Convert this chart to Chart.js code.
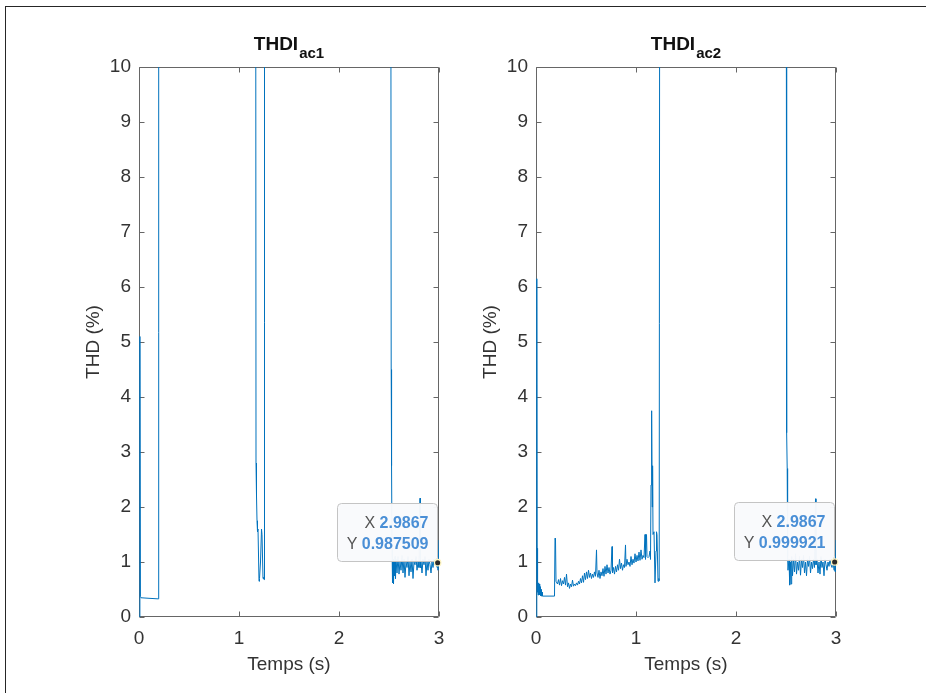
<!DOCTYPE html>
<html lang="fr">
<head>
  <meta charset="UTF-8" />
  <title>THDI ac1 / ac2</title>
  <script src="https://cdn.jsdelivr.net/npm/chart.js"></script>
  <style>
    body { margin: 0; background: #fff; width: 926px; height: 693px; overflow: hidden; position: relative; }
    .frame {
      position: absolute; left: 5px; top: 6px; width: 940px; height: 700px;
      border-top: 1px solid #262626; border-left: 1px solid #262626;
    }
    canvas { position: absolute; top: 0; }
    #ac1 { left: 0; }
    #ac2 { left: 397px; }
  </style>
</head>
<body>
  <div class="frame"></div>
  <canvas id="ac1" width="463" height="693"></canvas>
  <canvas id="ac2" width="463" height="693"></canvas>

  <script>
    // values; 20 = off the top of the axes (clipped at 10)
    const timeAc1 = [
      0, 0.009, 0.014, 0.02, 0.1, 0.19, 0.197,
      1.165, 1.17, 1.175, 1.18, 1.185, 1.19, 1.2, 1.205, 1.215, 1.225, 1.23, 1.24, 1.245, 1.25, 1.255,
      2.515, 2.522, 2.524, 2.527, 2.53, 2.535, 2.54, 2.545, 2.55, 2.555, 2.56, 2.565, 2.57, 2.58, 2.59,
      2.6, 2.61, 2.62, 2.63, 2.64, 2.65, 2.66, 2.67, 2.68, 2.69, 2.7, 2.71, 2.72, 2.73, 2.74, 2.75,
      2.76, 2.77, 2.78, 2.79, 2.8, 2.81, 2.815, 2.82, 2.83, 2.84, 2.85, 2.86, 2.87, 2.88, 2.89, 2.9,
      2.91, 2.92, 2.93, 2.94, 2.95, 2.96, 2.97, 2.98, 2.9867, 2.99, 3.0
    ];
    const thdAc1 = [
      0, 5.1, 0.37, 0.35, 0.34, 0.33, 20,
      20, 2.8, 2.2, 1.75, 1.55, 1.6, 0.65, 0.7, 1.0, 1.6, 1.5, 0.7, 0.72, 0.68, 20,
      20, 4.5, 3.4, 2.75, 1.3, 0.62, 1.05, 0.6, 1.0, 0.75, 1.1, 0.7, 1.05, 0.8, 1.1,
      0.78, 1.0, 0.85, 1.12, 0.8, 1.05, 0.72, 1.0, 0.9, 1.1, 0.75, 1.0, 0.82, 1.05, 0.7, 1.0,
      0.95, 1.1, 0.85, 1.0, 0.9, 2.16, 0.9, 1.0, 0.8, 1.05, 0.95, 1.1, 0.75, 1.0, 0.85, 1.05,
      0.95, 0.8, 1.0, 0.9, 1.05, 0.95, 1.0, 0.9, 0.987509, 0.85, 1.4
    ];

    const timeAc2 = [
      0, 0.008, 0.011, 0.014, 0.017, 0.021, 0.025, 0.029, 0.033, 0.037, 0.041, 0.045, 0.05, 0.055, 0.06,
      0.065, 0.1, 0.15, 0.185, 0.19, 0.195, 0.2,
      0.205, 0.215, 0.225, 0.235, 0.245, 0.255, 0.265, 0.275, 0.285, 0.295, 0.305, 0.315, 0.325, 0.335,
      0.345, 0.355, 0.365, 0.375, 0.385, 0.395, 0.405, 0.415, 0.425, 0.435, 0.445, 0.455, 0.465, 0.475,
      0.485, 0.495, 0.505, 0.515, 0.525, 0.535, 0.545, 0.555, 0.565, 0.575, 0.585, 0.595, 0.605, 0.61,
      0.62, 0.63, 0.64, 0.65, 0.66, 0.67, 0.68, 0.69, 0.7, 0.71, 0.72, 0.73, 0.74, 0.75, 0.76, 0.765,
      0.775, 0.785, 0.795, 0.805, 0.815, 0.825, 0.835, 0.845, 0.855, 0.865, 0.875, 0.885, 0.895, 0.9,
      0.91, 0.92, 0.93, 0.94, 0.95, 0.96, 0.97, 0.98, 0.99, 1.0, 1.01, 1.02, 1.03, 1.04, 1.05, 1.06,
      1.07, 1.08, 1.09, 1.095, 1.105, 1.11, 1.12, 1.13, 1.14, 1.145, 1.15, 1.155, 1.158, 1.162, 1.166,
      1.17, 1.18, 1.19, 1.2, 1.205, 1.21, 1.22, 1.228, 1.232, 1.24,
      2.5, 2.505, 2.508, 2.512, 2.516, 2.52, 2.53, 2.537, 2.545, 2.55, 2.557, 2.565, 2.575, 2.585, 2.595,
      2.605, 2.615, 2.625, 2.635, 2.645, 2.655, 2.665, 2.675, 2.685, 2.695, 2.705, 2.715, 2.725, 2.735,
      2.745, 2.755, 2.765, 2.775, 2.785, 2.795, 2.8, 2.81, 2.82, 2.83, 2.84, 2.85, 2.86, 2.87, 2.88,
      2.89, 2.9, 2.91, 2.92, 2.93, 2.94, 2.95, 2.96, 2.97, 2.98, 2.9867, 2.993, 3.0
    ];
    const thdAc2 = [
      0, 6.15, 1.25, 0.45, 0.65, 0.4, 0.62, 0.4, 0.6, 0.4, 0.55, 0.39, 0.5, 0.38, 0.45,
      0.38, 0.38, 0.38, 0.38, 1.43, 1.4, 0.65,
      0.65, 0.6, 0.68, 0.58, 0.7, 0.57, 0.66, 0.6, 0.72, 0.58, 0.78, 0.55, 0.62, 0.52,
      0.6, 0.55, 0.67, 0.56, 0.6, 0.57, 0.62, 0.58, 0.65, 0.6, 0.7, 0.62, 0.75, 0.63,
      0.8, 0.68, 0.82, 0.7, 0.85, 0.72, 0.8, 0.7, 0.78, 0.72, 0.82, 0.74, 1.22, 0.8,
      0.72, 0.85, 0.7, 0.82, 0.75, 0.88, 0.74, 0.92, 0.78, 0.95, 0.8, 0.9, 0.78, 0.85, 1.28, 0.8,
      0.9, 0.78, 0.92, 0.82, 0.95, 0.85, 1.05, 0.88, 0.98, 0.85, 0.95, 0.9, 1.31, 0.92,
      1.05, 0.95, 1.0, 0.92, 1.1, 0.95, 1.05, 0.98, 1.15, 1.0, 1.12, 1.02, 1.18, 1.03, 1.22, 1.05,
      1.12, 1.08, 1.5, 1.05, 1.5, 1.1, 1.08, 1.1, 1.2, 1.05, 2.4, 3.75, 3.7, 2.0, 2.75,
      1.5, 1.55, 0.62, 1.2, 1.55, 1.5, 0.65, 0.7, 0.66, 20,
      20, 4.5, 3.35, 2.7, 1.1, 0.85, 1.05, 0.58, 1.0, 0.6, 1.1, 0.75, 1.05, 0.82, 1.15,
      0.78, 1.0, 0.85, 1.1, 0.76, 1.05, 0.9, 1.12, 0.8, 1.0, 0.75, 1.05, 0.92, 1.1,
      0.8, 1.0, 0.88, 1.05, 0.9, 2.15, 0.95, 1.05, 0.8, 1.0, 0.78, 1.1, 0.9, 1.0, 0.75,
      1.05, 0.95, 0.85, 1.0, 0.92, 1.05, 0.95, 0.9, 1.02, 0.85, 0.999921, 0.82, 1.4
    ];

    const xTicks = [0, 1, 2, 3];
    const yTicks = [0, 1, 2, 3, 4, 5, 6, 7, 8, 9, 10];
    const titleSubs = ['ac1', 'ac2'];
    const tipX = [2.9867, 2.9867];
    const tipY = [0.987509, 0.999921];

    const FONT = "'Liberation Sans', Arial, Helvetica, sans-serif";
    const TEXT = '#333';
    const AXIS = '#666';

    // MATLAB-like box with inward ticks on all 4 sides (under the data)
    const axesBox = {
      id: 'axesBox',
      beforeDatasetsDraw(chart) {
        const { ctx, chartArea: a, scales: { x, y } } = chart;
        const L = Math.round(a.left) + 0.5, R = Math.round(a.right) - 0.5;
        const T = Math.round(a.top) + 0.5, B = Math.round(a.bottom) - 0.5;
        const len = 5;
        ctx.save();
        ctx.strokeStyle = AXIS;
        ctx.lineWidth = 1;
        ctx.beginPath();
        ctx.rect(L, T, R - L, B - T);
        xTicks.forEach(v => {
          const px = Math.round(x.getPixelForValue(v)) + 0.5;
          ctx.moveTo(px, B); ctx.lineTo(px, B - len);
          ctx.moveTo(px, T); ctx.lineTo(px, T + len);
        });
        yTicks.forEach(v => {
          const py = Math.round(y.getPixelForValue(v)) + 0.5;
          ctx.moveTo(L, py); ctx.lineTo(L + len, py);
          ctx.moveTo(R, py); ctx.lineTo(R - len, py);
        });
        ctx.stroke();
        ctx.restore();
      }
    };

    const panelTitle = {
      id: 'panelTitle',
      afterDraw(chart, args, opts) {
        const { ctx, chartArea: a } = chart;
        const cx = (a.left + a.right) / 2;
        ctx.save();
        ctx.fillStyle = '#111';
        ctx.textBaseline = 'alphabetic';
        ctx.textAlign = 'left';
        ctx.font = 'bold 19px ' + FONT;
        const w1 = ctx.measureText(opts.main).width;
        ctx.font = 'bold 15px ' + FONT;
        const w2 = ctx.measureText(opts.sub).width;
        const x0 = cx - (w1 + 1 + w2) / 2;
        ctx.font = 'bold 19px ' + FONT;
        ctx.fillText(opts.main, x0, a.top - 17);
        ctx.font = 'bold 15px ' + FONT;
        ctx.fillText(opts.sub, x0 + w1 + 1, a.top - 9);
        ctx.restore();
      }
    };

    const dataTip = {
      id: 'dataTip',
      afterDraw(chart, args, opts) {
        const { ctx, scales: { x, y } } = chart;
        const px = x.getPixelForValue(opts.x);
        const py = y.getPixelForValue(opts.y);
        const labFont = '16px ' + FONT, valFont = 'bold 16px ' + FONT;
        const rows = [['X ', String(opts.x)], ['Y ', String(opts.y)]];
        ctx.save();
        const widths = rows.map(([k, v]) => {
          ctx.font = labFont; const a = ctx.measureText(k).width;
          ctx.font = valFont; const b = ctx.measureText(v).width;
          return [a, b];
        });
        const tw = Math.max(...widths.map(w => w[0] + w[1]));
        const bw = Math.round(tw + 18), bh = 58;
        const bx = Math.round(px - 1 - bw) + 0.5, by = Math.round(py - 2 - bh) + 0.5;
        ctx.beginPath();
        ctx.roundRect(bx, by, bw, bh, 4);
        ctx.fillStyle = 'rgba(249,250,252,0.97)';
        ctx.fill();
        ctx.strokeStyle = '#c4c4c4';
        ctx.lineWidth = 1;
        ctx.stroke();
        const right = bx + bw - 9;
        const bases = [by + 24, by + 45.5];
        ctx.textBaseline = 'alphabetic';
        ctx.textAlign = 'right';
        rows.forEach(([k, v], i) => {
          ctx.font = valFont; ctx.fillStyle = '#4a8fd6';
          ctx.fillText(v, right, bases[i]);
          ctx.font = labFont; ctx.fillStyle = '#555';
          ctx.fillText(k, right - widths[i][1], bases[i]);
        });
        // marker
        ctx.beginPath();
        ctx.arc(px, py, 3.2, 0, Math.PI * 2);
        ctx.fillStyle = '#2b2b2b';
        ctx.fill();
        ctx.strokeStyle = '#fff6c4';
        ctx.lineWidth = 1.3;
        ctx.stroke();
        ctx.restore();
      }
    };

    function makeChart(id, times, values, sub, tx, ty) {
      const points = times.map((t, i) => ({ x: t, y: values[i] }));
      return new Chart(document.getElementById(id), {
        type: 'line',
        data: {
          datasets: [{
            data: points,
            borderColor: '#0072BD',
            borderWidth: 1,
            pointRadius: 0,
            fill: false,
            tension: 0
          }]
        },
        options: {
          responsive: false,
          animation: false,
          devicePixelRatio: 1,
          events: [],
          layout: { padding: { top: 67, right: 24, bottom: 0, left: 0 } },
          scales: {
            x: {
              type: 'linear', min: 0, max: 3,
              ticks: { stepSize: 1, font: { family: FONT, size: 19 }, color: TEXT, padding: 10, maxRotation: 0 },
              grid: { display: false, drawTicks: false }, border: { display: false },
              title: { display: true, text: 'Temps (s)', font: { family: FONT, size: 19 }, color: TEXT, padding: { top: 0, bottom: 17 } },
              afterFit: s => { s.height = 76; }
            },
            y: {
              type: 'linear', min: 0, max: 10,
              ticks: { stepSize: 1, font: { family: FONT, size: 19 }, color: TEXT, padding: 8 },
              grid: { display: false, drawTicks: false }, border: { display: false },
              title: { display: true, text: 'THD (%)', font: { family: FONT, size: 19 }, color: TEXT, padding: { top: 82, bottom: 0 } },
              afterFit: s => { s.width = 139; }
            }
          },
          plugins: {
            legend: { display: false },
            tooltip: { enabled: false },
            panelTitle: { main: 'THDI', sub: sub },
            dataTip: { x: tx, y: ty }
          }
        },
        plugins: [axesBox, panelTitle, dataTip]
      });
    }

    makeChart('ac1', timeAc1, thdAc1, titleSubs[0], tipX[0], tipY[0]);
    makeChart('ac2', timeAc2, thdAc2, titleSubs[1], tipX[1], tipY[1]);
  </script>
</body>
</html>
